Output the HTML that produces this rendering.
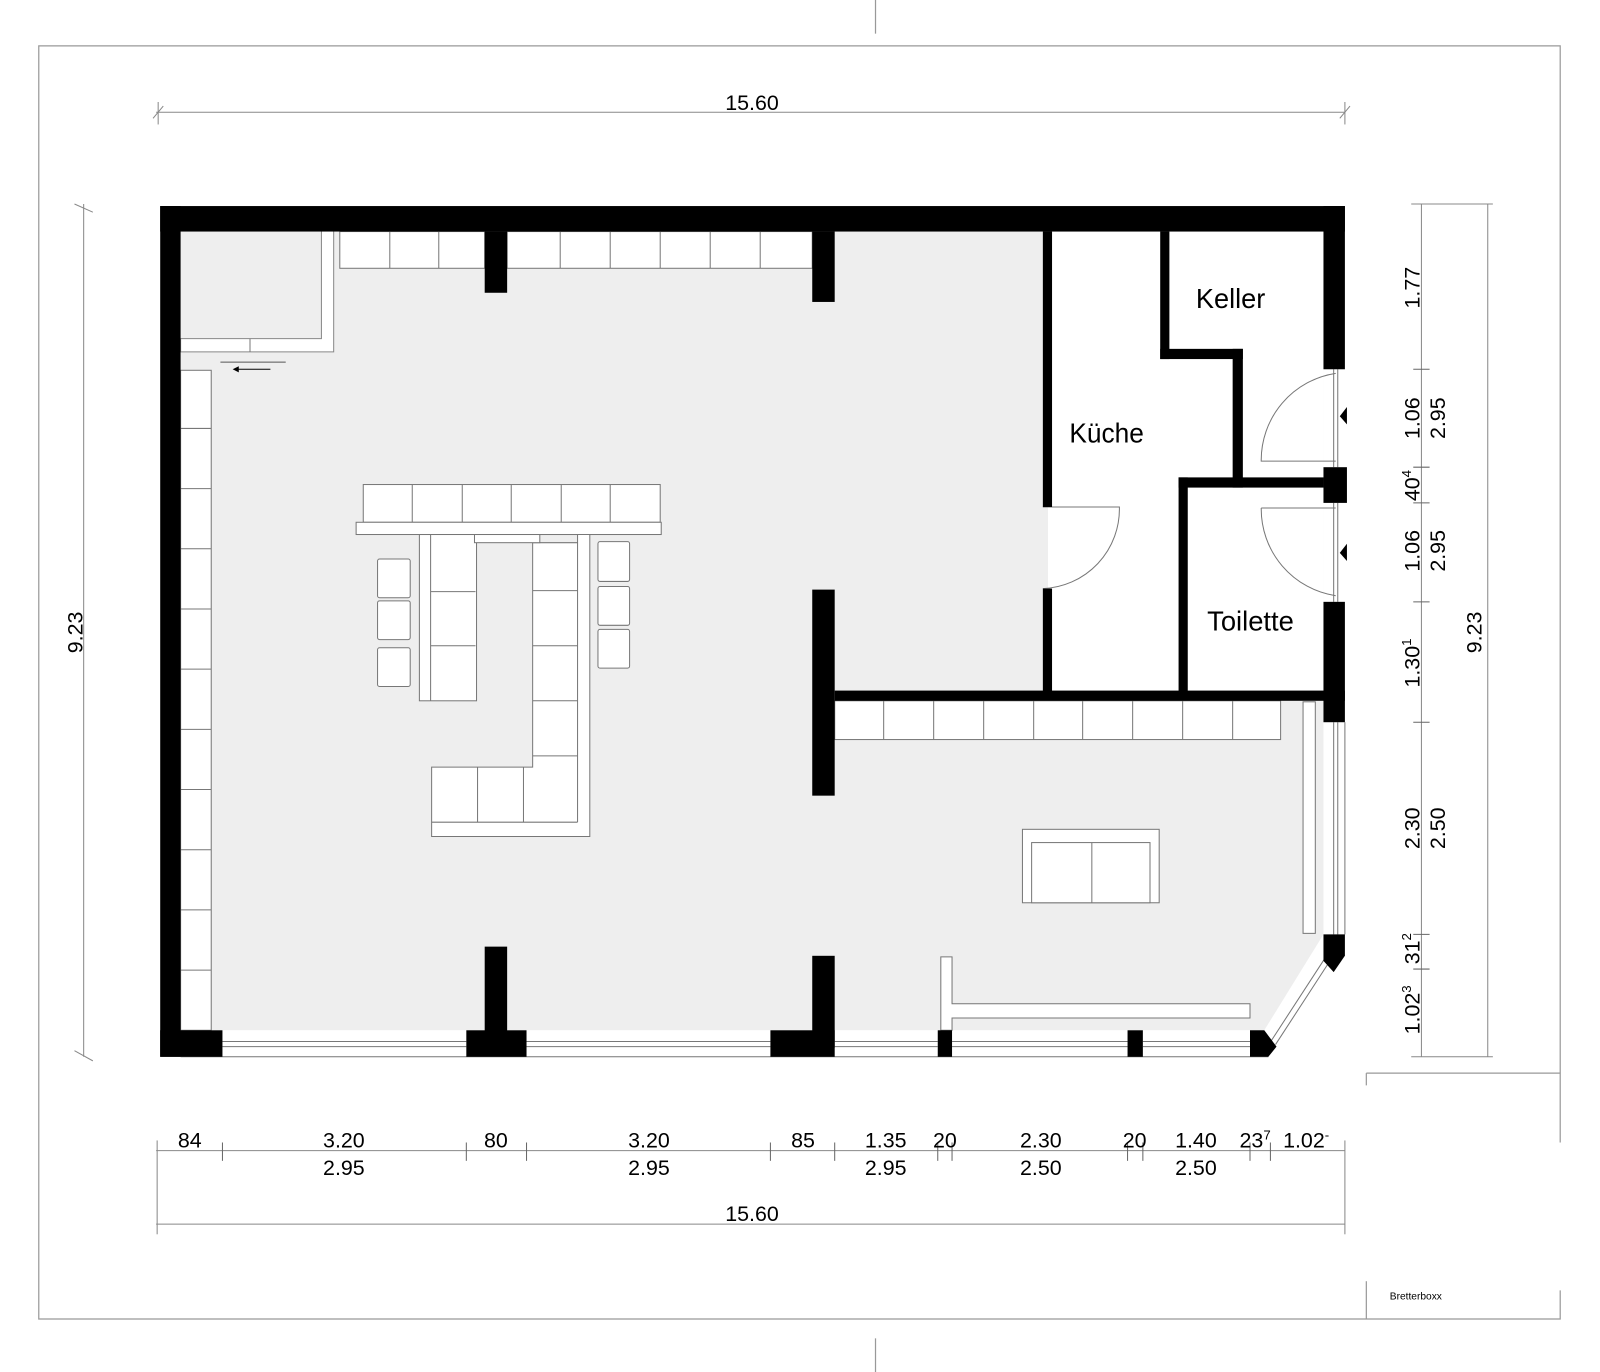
<!DOCTYPE html>
<html><head><meta charset="utf-8"><style>
html,body{margin:0;padding:0;background:#fff;}
svg{display:block;}
text{font-family:"Liberation Sans Narrow","Liberation Sans",sans-serif;fill:#000;}
</style></head><body>
<svg width="1600" height="1372" viewBox="0 0 1568 1345" preserveAspectRatio="none" xmlns="http://www.w3.org/2000/svg">
<rect width="1568" height="1345" fill="#fff"/>
<!-- border -->
<g stroke="#999" stroke-width="1.2" fill="none">
<polyline points="1529,1120 1529,45 38,45 38,1293 1529,1293 1529,1265"/>
<line x1="858" y1="0" x2="858" y2="33"/>
<line x1="858" y1="1312" x2="858" y2="1345"/>
<line x1="1339" y1="1052" x2="1529" y2="1052"/>
<line x1="1339" y1="1052" x2="1339" y2="1064"/>
<line x1="1339" y1="1256" x2="1339" y2="1293"/>
</g>
<text x="1362" y="1274" font-size="10">Bretterboxx</text>

<!-- floor -->
<rect x="177" y="227" width="1120" height="783" fill="#eee"/>
<rect x="1031" y="227" width="266" height="450" fill="#fff"/>
<rect x="1027" y="487" width="6" height="90" fill="#fff"/>
<!-- bottom window strip -->
<rect x="177" y="1010" width="1120" height="26" fill="#fff"/>
<polygon points="1251,1026 1243,1036 1297,1036 1297,942" fill="#fff"/>
<polygon points="1239,1010 1297,916 1297,1036 1251,1036" fill="#fff"/>

<!-- shelves etc (white with grey outlines) -->
<g fill="#fff" stroke="#777" stroke-width="1">
<!-- top shelf -->
<rect x="333" y="227" width="142" height="36"/>
<line x1="382" y1="227" x2="382" y2="263"/><line x1="430" y1="227" x2="430" y2="263"/>
<rect x="497" y="227" width="299" height="36"/>
<line x1="549" y1="227" x2="549" y2="263"/><line x1="598" y1="227" x2="598" y2="263"/><line x1="647" y1="227" x2="647" y2="263"/><line x1="696" y1="227" x2="696" y2="263"/><line x1="745" y1="227" x2="745" y2="263"/>
<!-- partition -->
<path d="M315,227 V332 H177 V345 H327 V227" stroke="#888"/>
<line x1="245" y1="332" x2="245" y2="345"/>
<!-- left shelf column -->
<rect x="177" y="363" width="30" height="647"/>
<line x1="177" y1="420" x2="207" y2="420"/><line x1="177" y1="479" x2="207" y2="479"/><line x1="177" y1="538" x2="207" y2="538"/><line x1="177" y1="597" x2="207" y2="597"/><line x1="177" y1="656" x2="207" y2="656"/><line x1="177" y1="715" x2="207" y2="715"/><line x1="177" y1="774" x2="207" y2="774"/><line x1="177" y1="833" x2="207" y2="833"/><line x1="177" y1="892" x2="207" y2="892"/><line x1="177" y1="951" x2="207" y2="951"/>
<!-- shelf under horizontal wall -->
<rect x="818" y="687" width="437" height="38"/>
<line x1="866" y1="687" x2="866" y2="725"/><line x1="915" y1="687" x2="915" y2="725"/><line x1="964" y1="687" x2="964" y2="725"/><line x1="1013" y1="687" x2="1013" y2="725"/><line x1="1061" y1="687" x2="1061" y2="725"/><line x1="1110" y1="687" x2="1110" y2="725"/><line x1="1159" y1="687" x2="1159" y2="725"/><line x1="1208" y1="687" x2="1208" y2="725"/>
<!-- right vertical shelf -->
<rect x="1277" y="688" width="12" height="227"/>
<!-- bottom L shelf -->
<path d="M922,938 H933 V984 H1225 V998 H933 V1010 H922 Z"/>
<!-- sofa -->
<rect x="1002" y="813" width="134" height="72"/>
<rect x="1011" y="826" width="116" height="59"/>
<line x1="1070" y1="826" x2="1070" y2="885"/>
<!-- central furniture -->
<rect x="356" y="475" width="291" height="37"/>
<line x1="404" y1="475" x2="404" y2="512"/><line x1="453" y1="475" x2="453" y2="512"/><line x1="501" y1="475" x2="501" y2="512"/><line x1="550" y1="475" x2="550" y2="512"/><line x1="598" y1="475" x2="598" y2="512"/>
<rect x="349" y="512" width="299" height="12"/>
<rect x="411" y="524" width="56" height="163"/>
<line x1="422" y1="524" x2="422" y2="687"/><line x1="422" y1="580" x2="466" y2="580"/><line x1="422" y1="633" x2="466" y2="633"/>
<path d="M566,524 H578 V820 H423 V752 H522 V532 H566 Z"/>
<line x1="566" y1="532" x2="566" y2="806"/><line x1="423" y1="806" x2="566" y2="806"/>
<line x1="522" y1="579" x2="566" y2="579"/><line x1="522" y1="633" x2="566" y2="633"/><line x1="522" y1="687" x2="566" y2="687"/><line x1="522" y1="741" x2="566" y2="741"/>
<line x1="468" y1="752" x2="468" y2="806"/><line x1="513" y1="752" x2="513" y2="806"/>
<rect x="465" y="524" width="64" height="8"/>
<rect x="370" y="548" width="32" height="38" rx="2"/><rect x="370" y="589" width="32" height="38" rx="2"/><rect x="370" y="635" width="32" height="38" rx="2"/>
<rect x="586" y="531" width="31" height="39" rx="2"/><rect x="586" y="575" width="31" height="38" rx="2"/><rect x="586" y="617" width="31" height="38" rx="2"/>
</g>
<!-- arrow -->
<line x1="216" y1="355" x2="280" y2="355" stroke="#555" stroke-width="1"/>
<line x1="233" y1="362" x2="265" y2="362" stroke="#000" stroke-width="1"/>
<polygon points="228,362 234,359 234,365" fill="#000"/>

<!-- windows -->
<g stroke="#777" stroke-width="1" fill="none">
<line x1="218" y1="1021" x2="457" y2="1021"/><line x1="218" y1="1026" x2="457" y2="1026"/>
<line x1="516" y1="1021" x2="755" y2="1021"/><line x1="516" y1="1026" x2="755" y2="1026"/>
<line x1="818" y1="1021" x2="919" y2="1021"/><line x1="818" y1="1026" x2="919" y2="1026"/>
<line x1="933" y1="1021" x2="1105" y2="1021"/><line x1="933" y1="1026" x2="1105" y2="1026"/>
<line x1="1120" y1="1021" x2="1225" y2="1021"/><line x1="1120" y1="1026" x2="1225" y2="1026"/>
<line x1="177" y1="1036" x2="1243" y2="1036"/>
<line x1="1307" y1="708" x2="1307" y2="916"/><line x1="1311" y1="708" x2="1311" y2="916"/>
<line x1="1318" y1="708" x2="1318" y2="916"/>
<line x1="1246" y1="1020" x2="1300" y2="937"/><line x1="1250" y1="1024" x2="1304" y2="941"/>
<line x1="1307" y1="362" x2="1307" y2="458"/><line x1="1311" y1="362" x2="1311" y2="458"/>
<line x1="1307" y1="493" x2="1307" y2="590"/><line x1="1311" y1="493" x2="1311" y2="590"/>
<!-- door arcs -->
<path d="M1309,366 A86,86 0 0 0 1236,452 H1309"/>
<path d="M1236,498 H1309 M1236,498 A86,86 0 0 0 1309,584"/>
<path d="M1022,497 H1097 A78,78 0 0 1 1022,577"/>
</g>
<polygon points="1320,399 1313,408 1320,416" fill="#000"/>
<polygon points="1320,533 1313,542 1320,550" fill="#000"/>

<!-- walls -->
<g fill="#000">
<rect x="157" y="202" width="1161" height="25"/>
<rect x="157" y="202" width="20" height="834"/>
<rect x="1297" y="202" width="21" height="160"/>
<rect x="1297" y="458" width="23" height="35"/>
<rect x="1297" y="590" width="21" height="118"/>
<polygon points="1297,916 1318,916 1318,937 1307,953 1297,942"/>
<polygon points="1225,1010 1239,1010 1251,1026 1243,1036 1225,1036"/>
<rect x="157" y="1010" width="61" height="26"/>
<rect x="475" y="227" width="22" height="60"/>
<rect x="796" y="227" width="22" height="69"/>
<rect x="475" y="928" width="22" height="100"/>
<rect x="457" y="1010" width="59" height="26"/>
<rect x="796" y="578" width="22" height="202"/>
<rect x="796" y="937" width="22" height="90"/>
<rect x="755" y="1010" width="63" height="26"/>
<rect x="919" y="1010" width="14" height="26"/>
<rect x="1105" y="1010" width="15" height="26"/>
<rect x="818" y="677" width="500" height="10"/>
<rect x="1022" y="227" width="9" height="270"/>
<rect x="1022" y="577" width="9" height="105"/>
<rect x="1137" y="227" width="9" height="125"/>
<rect x="1137" y="342" width="81" height="10"/>
<rect x="1208" y="342" width="10" height="136"/>
<rect x="1155" y="468" width="142" height="10"/>
<rect x="1155" y="468" width="9" height="214"/>
</g>

<!-- room labels -->
<text x="1172" y="302" font-size="27" font-family="Liberation Sans, sans-serif" textLength="68" lengthAdjust="spacingAndGlyphs">Keller</text>
<text x="1048" y="434" font-size="27" textLength="73" lengthAdjust="spacingAndGlyphs">Küche</text>
<text x="1183" y="618" font-size="27" textLength="85" lengthAdjust="spacingAndGlyphs">Toilette</text>

<!-- dimension lines -->
<g stroke="#888" stroke-width="1" fill="none">
<line x1="153" y1="110" x2="1318" y2="110"/>
<line x1="155" y1="100" x2="155" y2="122"/><line x1="1318" y1="100" x2="1318" y2="122"/>
<line x1="150" y1="116" x2="160" y2="104"/><line x1="1313" y1="116" x2="1323" y2="104"/>
<line x1="82" y1="200" x2="82" y2="1036"/>
<line x1="73" y1="200" x2="91" y2="208"/><line x1="73" y1="1030" x2="91" y2="1040"/>
<line x1="153" y1="1128" x2="1318" y2="1128"/>
<line x1="153" y1="1200" x2="1318" y2="1200"/>
<line x1="154" y1="1118" x2="154" y2="1210"/><line x1="1318" y1="1118" x2="1318" y2="1210"/>
<line x1="1393" y1="200" x2="1393" y2="1036"/>
<line x1="1458" y1="200" x2="1458" y2="1036"/>
<line x1="1383" y1="200" x2="1463" y2="200"/>
<line x1="1383" y1="1036" x2="1463" y2="1036"/>
</g>
<g stroke="#666" stroke-width="1">
<line x1="218" y1="1120" x2="218" y2="1138"/><line x1="457" y1="1120" x2="457" y2="1138"/><line x1="516" y1="1120" x2="516" y2="1138"/><line x1="755" y1="1120" x2="755" y2="1138"/><line x1="818" y1="1120" x2="818" y2="1138"/><line x1="919" y1="1120" x2="919" y2="1138"/><line x1="933" y1="1120" x2="933" y2="1138"/><line x1="1105" y1="1120" x2="1105" y2="1138"/><line x1="1120" y1="1120" x2="1120" y2="1138"/><line x1="1225" y1="1120" x2="1225" y2="1138"/><line x1="1245" y1="1120" x2="1245" y2="1138"/>
<line x1="1385" y1="362" x2="1401" y2="362"/><line x1="1385" y1="458" x2="1401" y2="458"/><line x1="1385" y1="493" x2="1401" y2="493"/><line x1="1385" y1="590" x2="1401" y2="590"/><line x1="1385" y1="708" x2="1401" y2="708"/><line x1="1385" y1="916" x2="1401" y2="916"/><line x1="1385" y1="950" x2="1401" y2="950"/>
</g>

<g font-size="21">
<text x="737" y="108" text-anchor="middle">15.60</text>
<text x="737" y="1197" text-anchor="middle">15.60</text>
<text x="186" y="1125" text-anchor="middle">84</text>
<text x="337" y="1125" text-anchor="middle">3.20</text>
<text x="486" y="1125" text-anchor="middle">80</text>
<text x="636" y="1125" text-anchor="middle">3.20</text>
<text x="787" y="1125" text-anchor="middle">85</text>
<text x="868" y="1125" text-anchor="middle">1.35</text>
<text x="926" y="1125" text-anchor="middle">20</text>
<text x="1020" y="1125" text-anchor="middle">2.30</text>
<text x="1112" y="1125" text-anchor="middle">20</text>
<text x="1172" y="1125" text-anchor="middle">1.40</text>
<text x="1230" y="1125" text-anchor="middle">23<tspan font-size="13" dy="-8">7</tspan></text>
<text x="1280" y="1125" text-anchor="middle">1.02<tspan font-size="13" dy="-8">-</tspan></text>
<text x="337" y="1152" text-anchor="middle">2.95</text>
<text x="636" y="1152" text-anchor="middle">2.95</text>
<text x="868" y="1152" text-anchor="middle">2.95</text>
<text x="1020" y="1152" text-anchor="middle">2.50</text>
<text x="1172" y="1152" text-anchor="middle">2.50</text>
<text transform="translate(81,620) rotate(-90)" text-anchor="middle">9.23</text>
<text transform="translate(1452,620) rotate(-90)" text-anchor="middle">9.23</text>
<text transform="translate(1391,282) rotate(-90)" text-anchor="middle">1.77</text>
<text transform="translate(1391,410) rotate(-90)" text-anchor="middle">1.06</text>
<text transform="translate(1416,410) rotate(-90)" text-anchor="middle">2.95</text>
<text transform="translate(1391,476) rotate(-90)" text-anchor="middle">40<tspan font-size="13" dy="-8">4</tspan></text>
<text transform="translate(1391,540) rotate(-90)" text-anchor="middle">1.06</text>
<text transform="translate(1416,540) rotate(-90)" text-anchor="middle">2.95</text>
<text transform="translate(1391,650) rotate(-90)" text-anchor="middle">1.30<tspan font-size="13" dy="-8">1</tspan></text>
<text transform="translate(1391,812) rotate(-90)" text-anchor="middle">2.30</text>
<text transform="translate(1416,812) rotate(-90)" text-anchor="middle">2.50</text>
<text transform="translate(1391,930) rotate(-90)" text-anchor="middle">31<tspan font-size="13" dy="-8">2</tspan></text>
<text transform="translate(1391,990) rotate(-90)" text-anchor="middle">1.02<tspan font-size="13" dy="-8">3</tspan></text>
</g>
</svg>
</body></html>
